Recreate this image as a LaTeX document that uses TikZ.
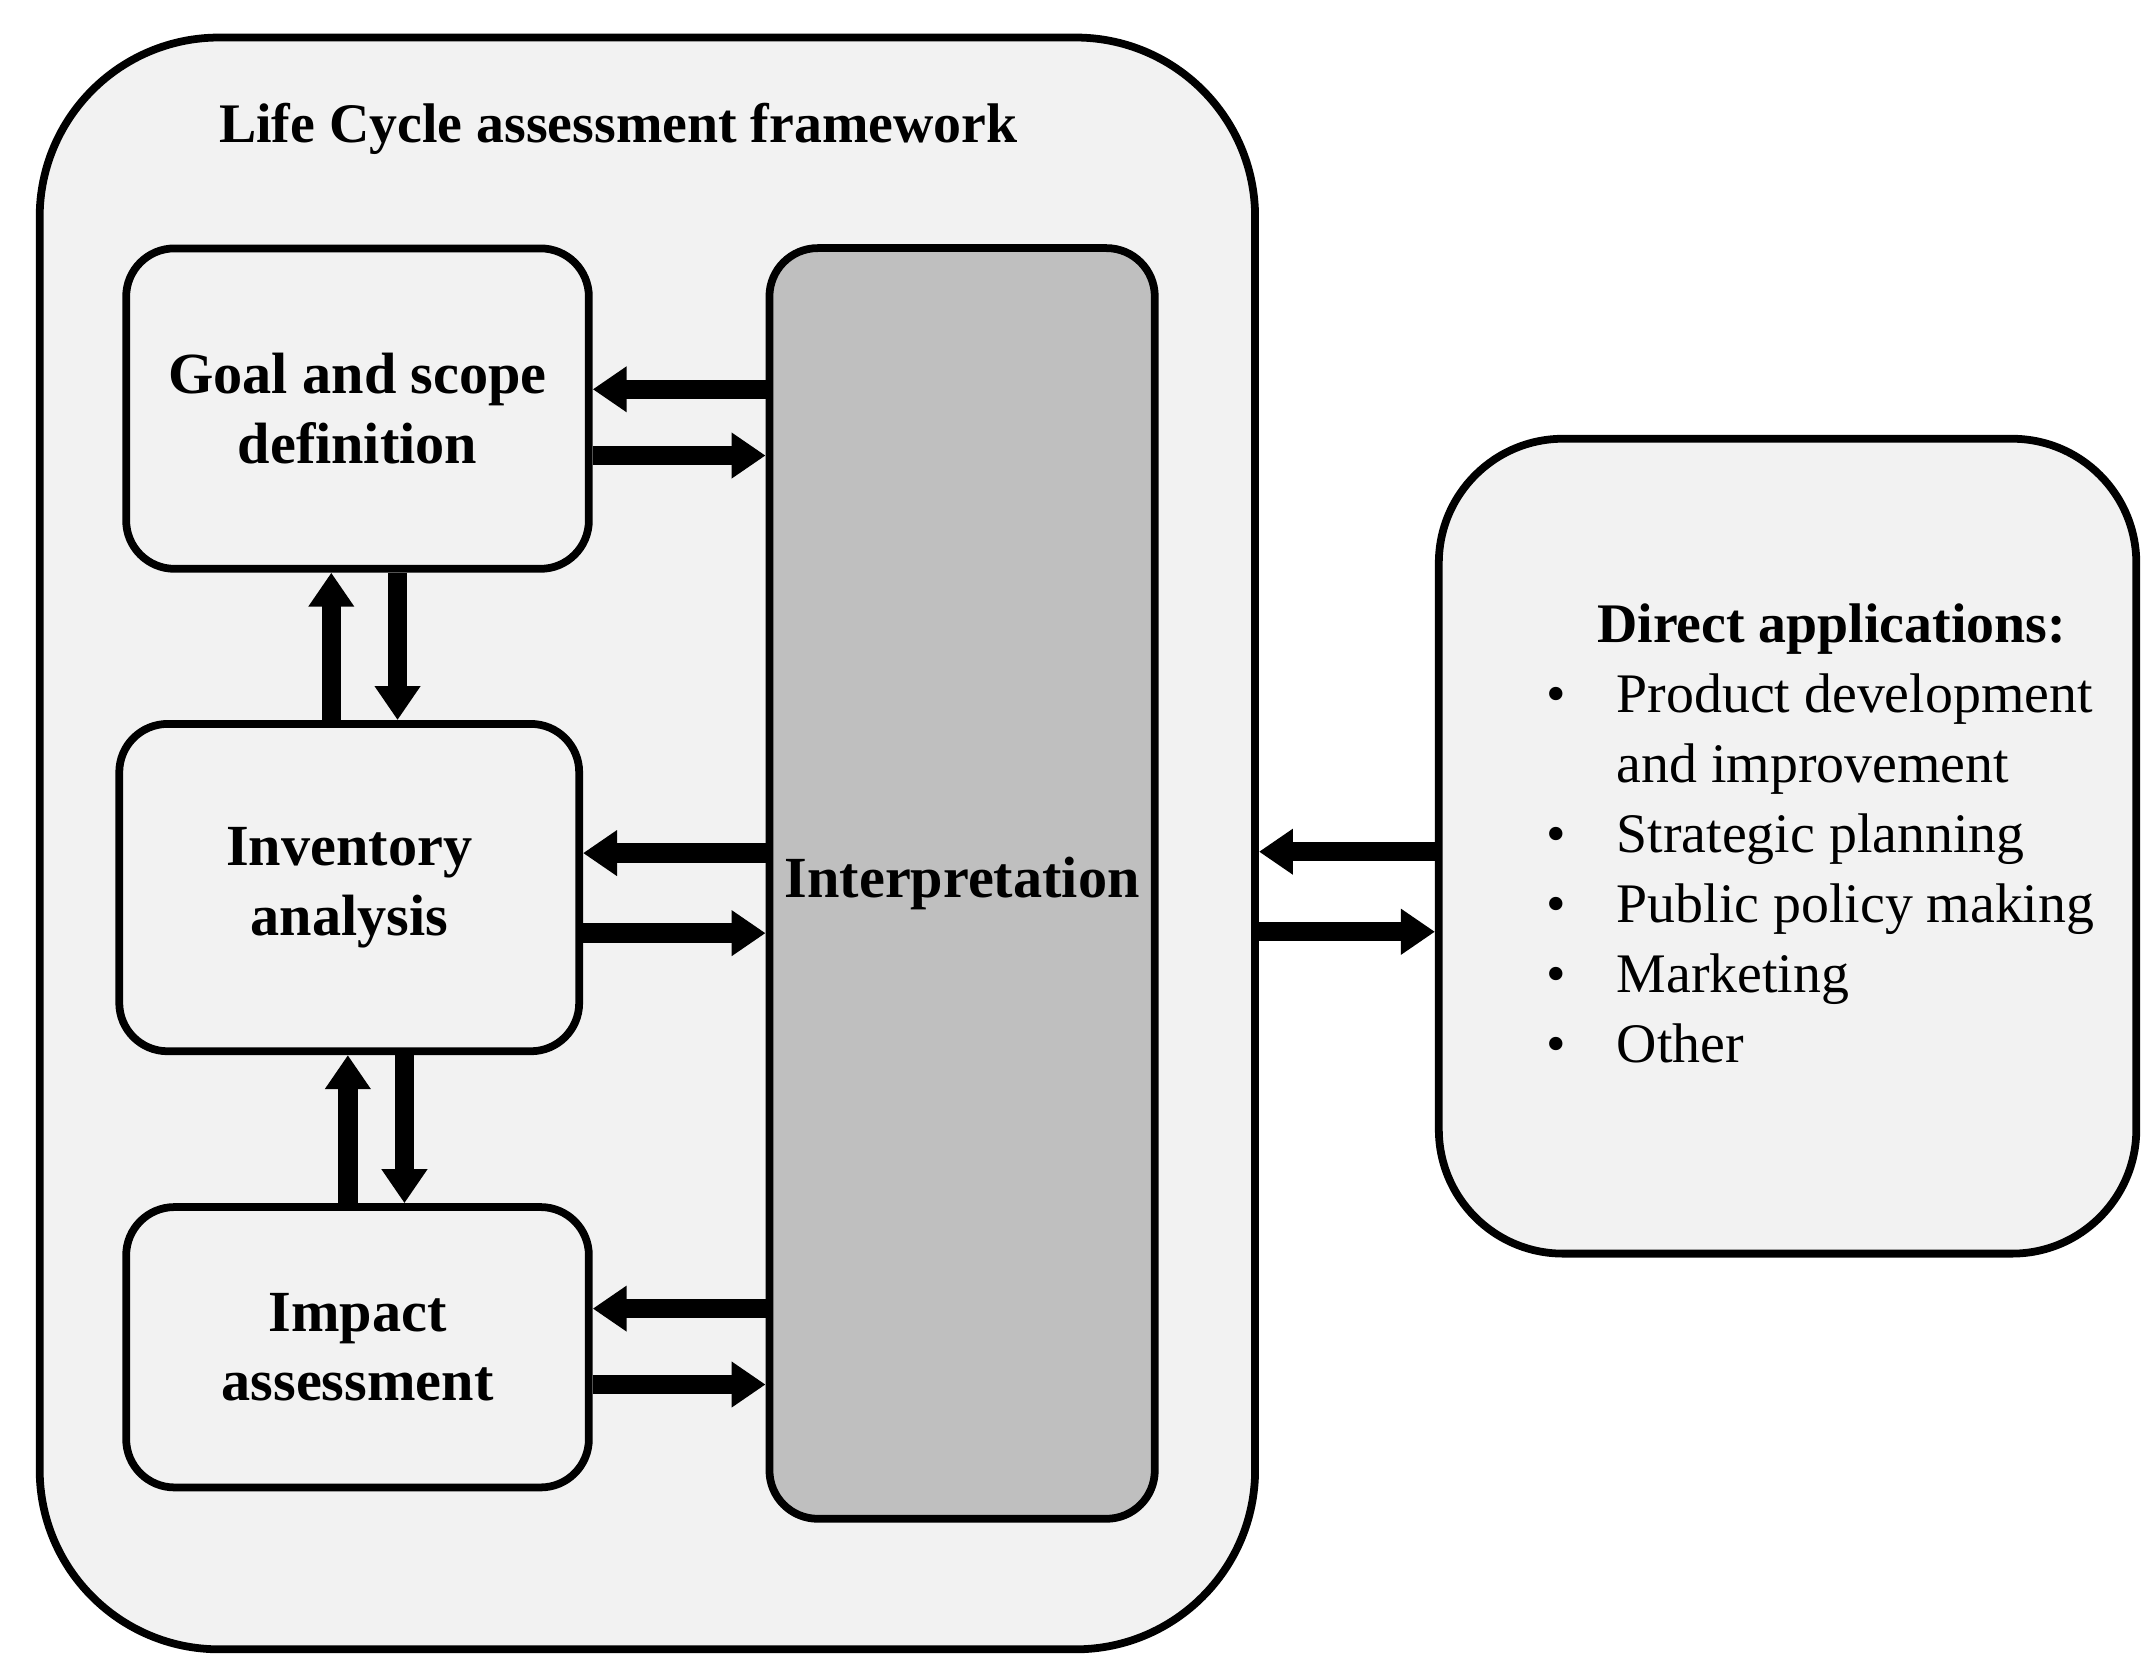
\documentclass[tikz,border=0pt]{standalone}
\usepackage{fontspec}
\setmainfont{Liberation Serif}
\usetikzlibrary{positioning,calc,arrows.meta}

\begin{document}
\begin{tikzpicture}[x=0.01cm,y=-0.01cm,
    box/.style={draw, line width=1.6pt, rounded corners=0.35cm, fill=black!5, align=center, inner sep=0pt, font=\bfseries\fontsize{12}{14.3}\selectfont},
    arr/.style={line width=4pt, -{Triangle[width=9pt,length=7pt]}}]
    \useasboundingbox (0,0) rectangle (1559,1217);
    % frame
    \node[box, rounded corners=1.3cm, minimum width=8.8cm, minimum height=11.67cm] (frame) at (469,611) {};
    \node[font=\bfseries\fontsize{11.5}{14}\selectfont] (title) at (448,93) {Life Cycle\ assessment framework};
    % stages
    \node[box, minimum width=3.35cm, minimum height=2.32cm] (goal) at (259,296) {Goal and scope\\definition};
    \node[box, minimum width=3.33cm, minimum height=2.37cm] (inv) at (253,643) {Inventory\\analysis};
    \node[box, minimum width=3.35cm, minimum height=2.03cm] (imp) at (259,976) {Impact\\assessment};
    \node[box, fill=black!25, minimum width=2.79cm, minimum height=9.2cm] (interp) at (697,640) {Interpretation};
    \node[box, rounded corners=0.9cm, minimum width=5.05cm, minimum height=5.9cm] (app) at (1295,613) {};
    \node[font=\fontsize{11.5}{14.4}\selectfont, align=left, anchor=north west, inner sep=0pt] (list) at (1120,437)
      {\textbf{\hspace{0.9em}Direct applications:}\\
       \textbullet\hspace{0.9em}Product development\\
       \phantom{\textbullet}\hspace{0.9em}and improvement\\
       \textbullet\hspace{0.9em}Strategic\ planning\\
       \textbullet\hspace{0.9em}Public policy making\\
       \textbullet\hspace{0.9em}Marketing\\
       \textbullet\hspace{0.9em}Other};
    % horizontal arrows
    \foreach \n/\a/\b in {goal/282/330, inv/618/676, imp/948/1003} {
      \draw[arr] (interp.west |- {0,\a}) -- (\n.east |- {0,\a});
      \draw[arr] (\n.east |- {0,\b}) -- (interp.west |- {0,\b});
    }
    % vertical arrows
    \draw[arr] (inv.north -| {240,0}) -- (goal.south -| {240,0});
    \draw[arr] (goal.south -| {288,0}) -- (inv.north -| {288,0});
    \draw[arr] (imp.north -| {252,0}) -- (inv.south -| {252,0});
    \draw[arr] (inv.south -| {293,0}) -- (imp.north -| {293,0});
    % applications
    \draw[arr] (app.west |- {0,617}) -- (frame.east |- {0,617});
    \draw[arr] (frame.east |- {0,675}) -- (app.west |- {0,675});
\end{tikzpicture}
\end{document}
